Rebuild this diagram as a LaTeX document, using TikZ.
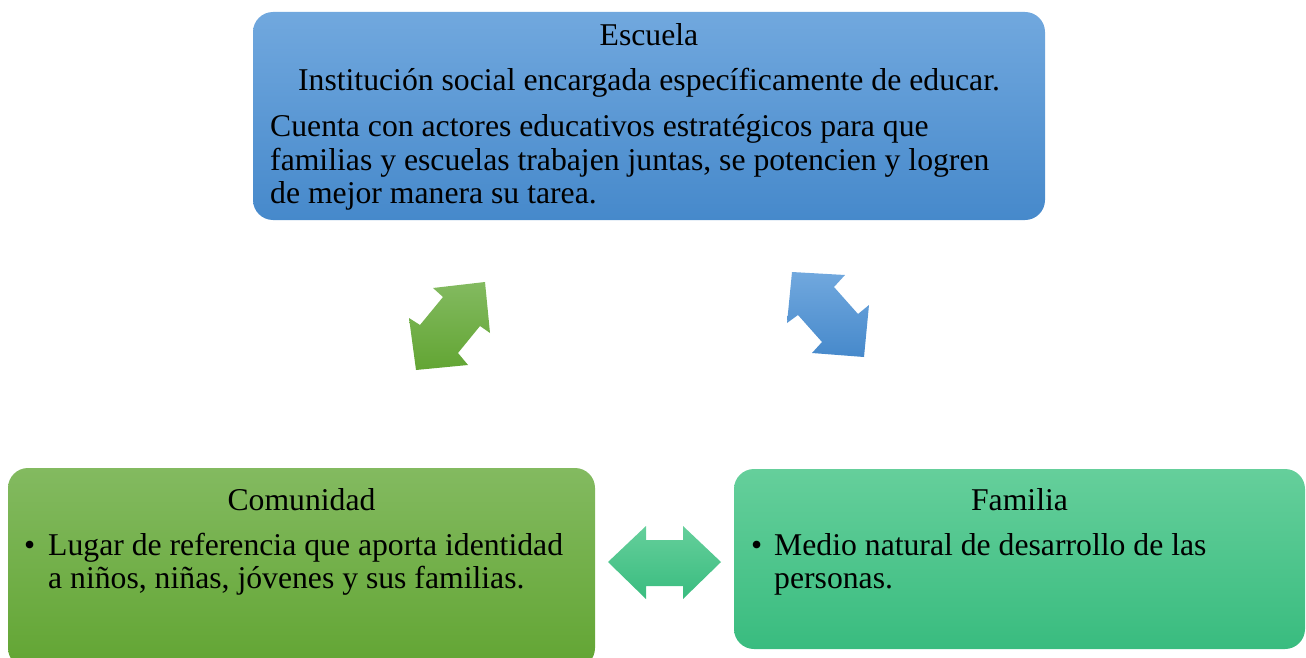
\documentclass[tikz,border=0pt]{standalone}
\usepackage{fontspec}
\setmainfont{Liberation Serif}
\definecolor{bluetop}{HTML}{71A8DE}
\definecolor{bluebot}{HTML}{4689CB}
\definecolor{greentop}{HTML}{83BA60}
\definecolor{greenbot}{HTML}{62A533}
\definecolor{tealtop}{HTML}{65CF9B}
\definecolor{tealbot}{HTML}{39BC7F}
\tikzset{
  box/.style={rounded corners=20pt, inner sep=0pt, draw=none},
  txt/.style={inner sep=0pt, anchor=base west, font=\fontsize{31.7}{33}\selectfont, text=black},
  ctxt/.style={inner sep=0pt, anchor=base, font=\fontsize{31.7}{33}\selectfont, text=black},
}
\begin{document}
\begin{tikzpicture}[x=1pt,y=-1pt]
\useasboundingbox (0,0) rectangle (1306,658);
% boxes
\node[box, top color=bluetop, bottom color=bluebot, minimum width=792pt, minimum height=208pt] (esc) at (649,116) {};
\node[box, top color=greentop, bottom color=greenbot, minimum width=587pt, minimum height=200pt] (com) at (301.5,568) {};
\node[box, top color=tealtop, bottom color=tealbot, minimum width=571pt, minimum height=180pt] (fam) at (1019.5,559) {};
% texts Escuela
\node[ctxt] (esct) at (649,46) {Escuela};
\node[ctxt] (esc1) at (649,91) {Institución social encargada específicamente de educar.};
\node[txt] (esc2) at (270,137) {Cuenta con actores educativos estratégicos para que};
\node[txt] (esc3) at (270,170) {familias y escuelas trabajen juntas, se potencien y logren};
\node[txt] (esc4) at (270,203) {de mejor manera su tarea.};
% Comunidad
\node[ctxt] (comt) at (301.5,510) {Comunidad};
\node[txt] (comb) at (24,555) {•};
\node[txt] (com1) at (48,555) {Lugar de referencia que aporta identidad};
\node[txt] (com2) at (48,588) {a niños, niñas, jóvenes y sus familias.};
% Familia
\node[ctxt] (famt) at (1019.5,510) {Familia};
\node[txt] (famb) at (751,555) {•};
\node[txt] (fam1) at (774,555) {Medio natural de desarrollo de las};
\node[txt] (fam2) at (774,588) {personas.};
% arrows
\shade[top color=greentop, bottom color=greenbot]
  (485,282) -- (433,288) -- (443,297) -- (420,325) -- (409,318) -- (416,370)
  -- (468,365) -- (458,353) -- (480,326) -- (490,333) -- cycle;
\shade[top color=bluetop, bottom color=bluebot]
  (792,272) -- (845,275) -- (834,287) -- (858,314) -- (869,305) -- (864,357)
  -- (812,353) -- (822,342) -- (798,315) -- (787,323) -- cycle;
\shade[top color=tealtop, bottom color=tealbot]
  (608,562) -- (646,526) -- (646,540) -- (683,540) -- (683,526) -- (721,562)
  -- (683,599) -- (683,586) -- (646,586) -- (646,599) -- cycle;
\end{tikzpicture}
\end{document}
